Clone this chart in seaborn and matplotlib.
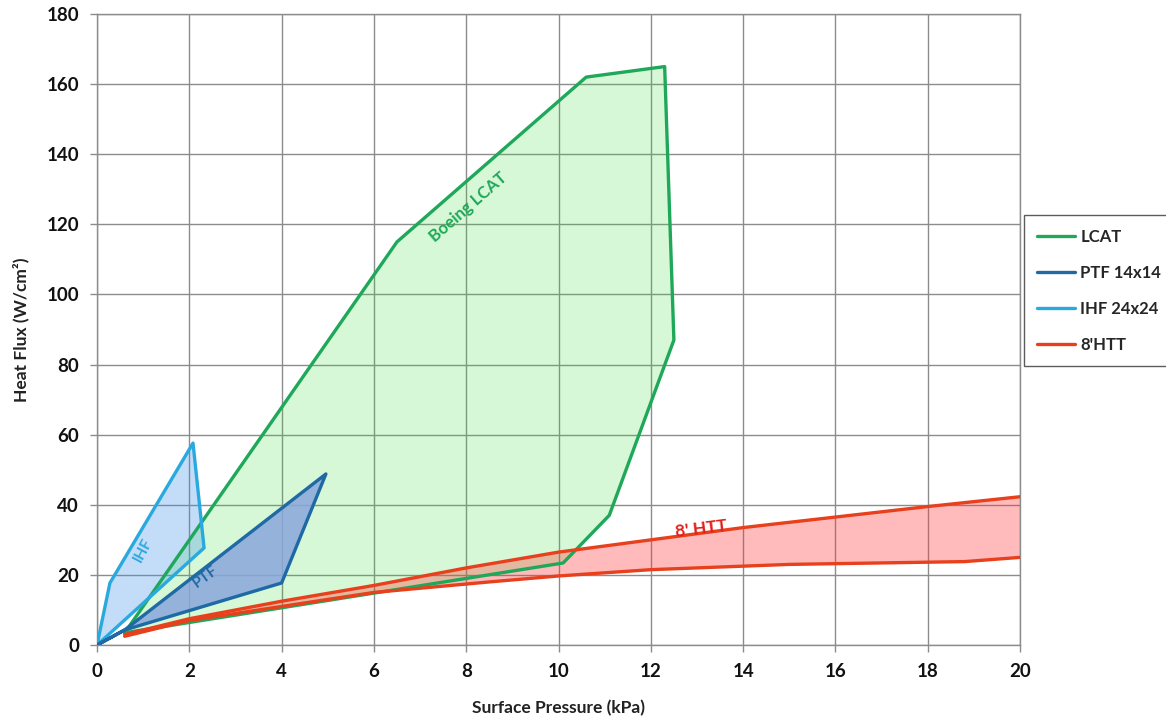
import matplotlib
matplotlib.use("Agg")
import matplotlib.pyplot as plt
import seaborn as sns
import pandas as pd

# ---- data (polygon outlines) ----
lcat_x = [0.6, 6.5, 10.6, 12.3, 12.5, 11.1, 10.1, 0.6]
lcat_y = [3.5, 115, 162, 165, 87, 37, 23.4, 3.5]

htt_x = [0.6, 2, 4, 6, 8, 10, 12, 14, 16, 18, 20, 20, 18.8, 15, 12, 10, 8.5, 6, 4, 2, 0.6, 0.6]
htt_y = [3.0, 7.5, 12.5, 17, 22, 26.5, 30, 33.5, 36.5, 39.5, 42.3, 25, 23.8, 23, 21.5, 19.7, 18, 15, 11, 7, 2.5, 3.0]

ihf_x = [0, 0.28, 2.08, 2.32, 0]
ihf_y = [0, 17.7, 57.6, 27.7, 0]

ptf_x = [0, 0.6, 4.96, 4.0, 0.6, 0]
ptf_y = [0, 4.3, 48.8, 17.7, 4.3, 0]

series_names = ["LCAT", "PTF 14x14", "IHF 24x24", "8'HTT"]
x_ticks = [0, 2, 4, 6, 8, 10, 12, 14, 16, 18, 20]
y_ticks = [0, 20, 40, 60, 80, 100, 120, 140, 160, 180]

c_lcat, c_ptf, c_ihf, c_htt = "#1fa85a", "#1f6aa5", "#2aa9df", "#e8401c"

sns.set_theme(style="white")
plt.rcParams["font.family"] = ["Lato", "DejaVu Sans"]
plt.rcParams["font.weight"] = "bold"

fig = plt.figure(figsize=(11.66, 7.25), dpi=100)
ax = fig.add_axes([0.0832, 0.1103, 0.7916, 0.8704])

# fills
ax.fill(lcat_x, lcat_y, color="#33dd33", alpha=0.2, lw=0, zorder=1)
ax.fill(htt_x, htt_y, color="#ff3333", alpha=0.33, lw=0, zorder=2)
ax.fill(ihf_x, ihf_y, color="#3b8ee8", alpha=0.3, lw=0, zorder=3)
ax.fill(ptf_x, ptf_y, color="#8aa6dc", alpha=0.85, lw=0, zorder=4)

# outlines via seaborn
def outline(xs, ys, color, label, z):
    df = pd.DataFrame({"x": xs, "y": ys})
    sns.lineplot(data=df, x="x", y="y", sort=False, estimator=None, color=color,
                 lw=2.4, ax=ax, label=label, zorder=z)

outline(lcat_x, lcat_y, c_lcat, series_names[0], 5)
outline(ptf_x, ptf_y, c_ptf, series_names[1], 7)
outline(ihf_x, ihf_y, c_ihf, series_names[2], 6)
outline(htt_x[:11], htt_y[:11], c_htt, series_names[3], 5)
sns.lineplot(x=htt_x[11:21], y=htt_y[11:21], sort=False, estimator=None, color=c_htt,
             lw=2.4, ax=ax, zorder=5)

# in-plot labels
ax.text(8.05, 125, "Boeing LCAT", color=c_lcat, rotation=41, fontsize=12,
        fontweight="bold", ha="center", va="center", zorder=9)
ax.text(13.1, 33.0, "8' HTT", color="#e0201c", rotation=7, fontsize=12.5,
        fontweight="bold", ha="center", va="center", zorder=9)
ax.text(1.0, 27, "IHF", color=c_ihf, rotation=62, fontsize=11,
        fontweight="bold", ha="center", va="center", zorder=9)
ax.text(2.35, 19.5, "PTF", color=c_ptf, rotation=36, fontsize=11,
        fontweight="bold", ha="center", va="center", zorder=9)

ax.set_xlim(0, 20)
ax.set_ylim(0, 180)
ax.set_xticks(x_ticks)
ax.set_yticks(y_ticks)
ax.grid(True, color="#8c8c8c", lw=1.0)
ax.set_axisbelow(True)
for s in ax.spines.values():
    s.set_color("#8c8c8c")
    s.set_linewidth(1.0)
ax.tick_params(axis="both", which="major", length=5, width=1, color="#8c8c8c",
               direction="out", labelsize=13.5, pad=8, bottom=True, left=True)
for lab in ax.get_xticklabels() + ax.get_yticklabels():
    lab.set_fontweight("bold")
    lab.set_color("#111111")

ax.set_xlabel("Surface Pressure (kPa)", fontsize=12.5, fontweight="bold", color="#222222", labelpad=14)
ax.set_ylabel("Heat Flux (W/cm²)", fontsize=12.5, fontweight="bold", color="#222222", labelpad=12)

leg = ax.legend(loc="upper left", bbox_to_anchor=(1.004, 0.681), frameon=True,
                fancybox=False, edgecolor="#333333", fontsize=12, handlelength=2.3,
                borderpad=0.8, labelspacing=1.2, handletextpad=0.3, borderaxespad=0)
leg.get_frame().set_linewidth(1.0)
for t in leg.get_texts():
    t.set_fontweight("bold")

fig.savefig("out.png", dpi=100)
